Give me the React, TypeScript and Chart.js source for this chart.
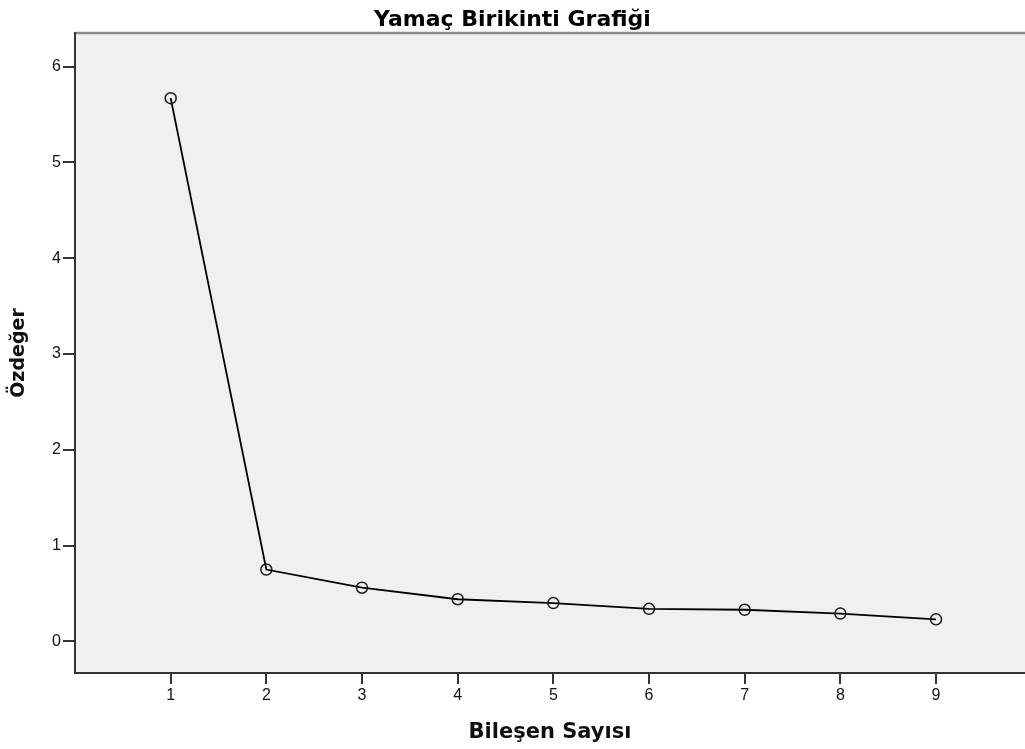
import React, { useEffect, useRef } from 'react';
import { Chart, registerables } from 'chart.js';

Chart.register(...registerables);

const components = [1, 2, 3, 4, 5, 6, 7, 8, 9];
const eigenvalues = [5.67, 0.75, 0.56, 0.44, 0.4, 0.34, 0.33, 0.29, 0.23];
const xTickValues = [1, 2, 3, 4, 5, 6, 7, 8, 9];
const yTickValues = [0, 1, 2, 3, 4, 5, 6];
const chartTitle = 'Yamaç Birikinti Grafiği';
const xAxisTitle = 'Bileşen Sayısı';
const yAxisTitle = 'Özdeğer';

const FONT = '"Liberation Sans", Arial, sans-serif';
const TITLE_FONT = '"DejaVu Sans", "Liberation Sans", sans-serif';

const plotBackground = {
  id: 'plotBackground',
  beforeDraw(chart: any) {
    const { ctx, chartArea } = chart;
    const { left, top, right, bottom } = chartArea;
    ctx.save();
    ctx.fillStyle = '#f0f0f0';
    ctx.fillRect(left, top, right - left, bottom - top);
    ctx.strokeStyle = '#8a8a8a';
    ctx.lineWidth = 2.5;
    ctx.beginPath();
    ctx.moveTo(left, top);
    ctx.lineTo(right, top);
    ctx.stroke();
    ctx.restore();
  },
};

export default function App() {
  const canvasRef = useRef<HTMLCanvasElement | null>(null);

  useEffect(() => {
    if (!canvasRef.current) return;
    const points = components.map((c, i) => ({ x: c, y: eigenvalues[i] }));
    const chart = new Chart(canvasRef.current, {
      type: 'line',
      data: {
        datasets: [
          {
            data: points,
            borderColor: '#000000',
            borderWidth: 1.8,
            pointRadius: 5.5,
            pointBorderWidth: 1.5,
            pointBorderColor: '#1a1a1a',
            pointBackgroundColor: 'rgba(0,0,0,0)',
            tension: 0,
            fill: false,
            clip: false,
          } as any,
        ],
      },
      options: {
        responsive: false,
        animation: false,
        layout: { padding: 0, autoPadding: false },
        plugins: {
          legend: { display: false },
          tooltip: { enabled: false },
          title: {
            display: true,
            text: chartTitle,
            color: '#000000',
            font: { family: TITLE_FONT, size: 22, weight: 'bold', lineHeight: 1.0 },
            padding: { top: 9.5, bottom: 1.5 },
          },
        },
        scales: {
          x: {
            type: 'linear',
            min: 0,
            max: 9.93,
            afterBuildTicks: (s: any) => {
              s.ticks = xTickValues.map((v) => ({ value: v }));
            },
            afterFit: (s: any) => {
              s.height = 76;
              s.paddingLeft = 0;
              s.paddingRight = 0;
            },
            ticks: {
              font: { family: FONT, size: 16 },
              color: '#111111',
              padding: 2,
              autoSkip: false,
              maxRotation: 0,
              callback: (v: any) => String(v),
            },
            grid: {
              drawOnChartArea: false,
              drawTicks: true,
              tickLength: 11,
              color: '#333333',
              lineWidth: 2,
            },
            border: { display: true, color: '#333333', width: 2 },
            title: {
              display: true,
              text: xAxisTitle,
              color: '#111111',
              font: { family: TITLE_FONT, size: 21, weight: 'bold', lineHeight: 1.2 },
              padding: { top: 0, bottom: 4 },
            },
          },
          y: {
            type: 'linear',
            min: -0.33,
            max: 6.35,
            afterBuildTicks: (s: any) => {
              s.ticks = yTickValues.map((v) => ({ value: v }));
            },
            afterFit: (s: any) => {
              s.width = 75;
            },
            ticks: {
              font: { family: FONT, size: 16 },
              color: '#111111',
              padding: 2,
              callback: (v: any) => String(v),
            },
            grid: {
              drawOnChartArea: false,
              drawTicks: true,
              tickLength: 12,
              color: '#333333',
              lineWidth: 2,
            },
            border: { display: true, color: '#333333', width: 2 },
            title: {
              display: true,
              text: yAxisTitle,
              color: '#111111',
              font: { family: TITLE_FONT, size: 19, weight: 'bold', lineHeight: 1.2 },
              padding: { top: 8, bottom: 0 },
            },
          },
        },
      } as any,
      plugins: [plotBackground],
    });
    return () => chart.destroy();
  }, []);

  return (
    <div style={{ position: 'absolute', left: 0, top: 0, width: 1025, height: 749, background: '#ffffff' }}>
      <canvas ref={canvasRef} width={1025} height={749} style={{ display: 'block' }} />
    </div>
  );
}
